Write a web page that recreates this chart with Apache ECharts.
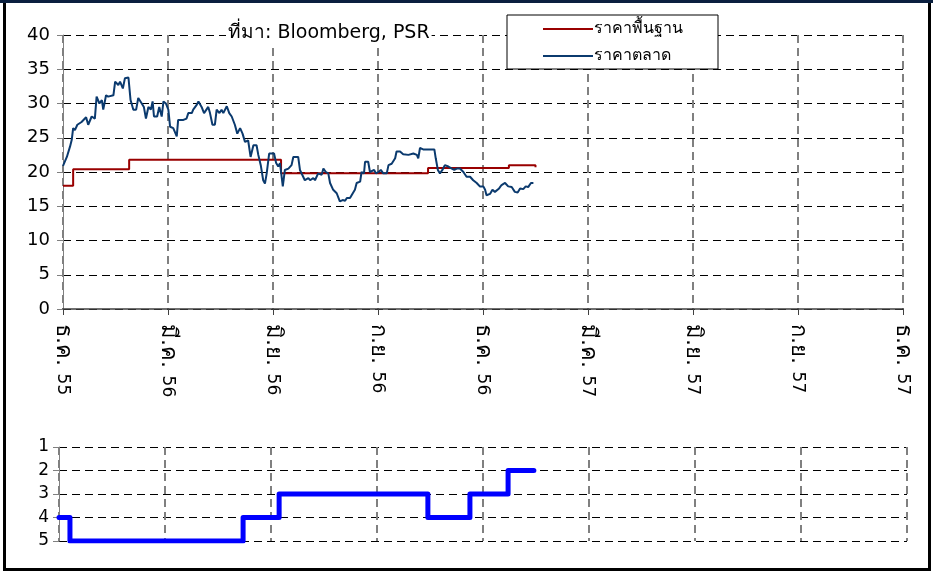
<!DOCTYPE html>
<html>
<head>
<meta charset="utf-8">
<script src="https://cdn.jsdelivr.net/npm/echarts@6/dist/echarts.min.js"></script>
<style>
    html, body { margin: 0; padding: 0; background: #fff; }
    #chart { width: 933px; height: 572px; }
</style>
</head>
<body>
<div id="chart"></div>
<script>
// x values are months counted from ธ.ค. 55
const xMonths = ['ธ.ค.', 'มี.ค.', 'มิ.ย.', 'ก.ย.', 'ธ.ค.', 'มี.ค.', 'มิ.ย.', 'ก.ย.', 'ธ.ค.']
const xYears = ['55', '56', '56', '56', '56', '57', '57', '57', '57']

// ราคาพื้นฐาน (step changes)
const basePrice = [
    [0, 18.0], [0.29, 20.4], [1.89, 21.8], [6.23, 19.8], [10.43, 20.6], [12.74, 21.0], [13.42, 21.0], [13.5, 20.7]
]

// ราคาตลาด
const marketPrice = [
    [0, 20.9], [0.11, 22.2], [0.2, 23.7], [0.25, 24.7], [0.29, 26.4], [0.34, 26.1], [0.41, 26.9], [0.53, 27.3],
    [0.66, 28.0], [0.72, 26.9], [0.82, 28.1], [0.91, 27.8], [0.96, 31.0], [1.04, 30.0], [1.11, 30.5], [1.15, 29.1],
    [1.23, 31.2], [1.29, 31.0], [1.44, 31.2], [1.49, 33.2], [1.58, 32.7], [1.63, 33.2], [1.71, 32.2], [1.77, 33.7],
    [1.87, 33.8], [1.93, 30.5], [2.01, 29.1], [2.09, 29.1], [2.15, 30.8], [2.25, 30.0], [2.31, 29.5], [2.37, 27.8],
    [2.44, 29.5], [2.51, 29.1], [2.56, 30.3], [2.6, 28.1], [2.69, 28.1], [2.75, 29.5], [2.82, 28.1], [2.87, 30.3],
    [2.94, 30.0], [3.01, 29.1], [3.06, 26.6], [3.15, 26.4], [3.25, 25.2], [3.29, 27.6], [3.44, 27.6], [3.53, 27.8],
    [3.58, 28.6], [3.68, 28.6], [3.72, 29.1], [3.82, 29.8], [3.87, 30.3], [3.96, 29.5], [4.03, 28.6], [4.15, 29.5],
    [4.2, 28.6], [4.27, 26.9], [4.34, 26.9], [4.39, 29.1], [4.47, 28.6], [4.53, 29.1], [4.58, 28.6], [4.68, 29.6],
    [4.75, 28.6], [4.82, 28.1], [4.91, 26.9], [4.98, 25.6], [5.06, 26.4], [5.13, 25.6], [5.2, 24.4], [5.29, 24.6],
    [5.36, 22.2], [5.44, 23.9], [5.53, 23.9], [5.58, 22.5], [5.65, 21.0], [5.72, 18.8], [5.77, 18.3], [5.82, 19.8],
    [5.89, 22.7], [6.03, 22.7], [6.09, 21.3], [6.15, 20.8], [6.2, 21.3], [6.28, 17.9], [6.34, 20.3], [6.44, 20.5],
    [6.53, 21.0], [6.58, 22.2], [6.72, 22.2], [6.77, 20.3], [6.91, 18.8], [7.01, 19.1], [7.06, 18.8], [7.15, 19.1],
    [7.2, 18.8], [7.29, 19.8], [7.39, 19.6], [7.44, 20.5], [7.51, 20.0], [7.58, 19.8], [7.63, 18.4], [7.72, 17.4],
    [7.82, 16.9], [7.91, 15.7], [7.99, 15.9], [8.06, 15.8], [8.11, 16.2], [8.2, 16.2], [8.28, 16.9], [8.34, 17.4],
    [8.39, 18.4], [8.49, 18.6], [8.53, 20.0], [8.6, 19.8], [8.63, 21.5], [8.72, 21.5], [8.77, 20.0], [8.82, 19.8],
    [8.89, 20.3], [8.94, 19.8], [9.01, 20.0], [9.08, 20.3], [9.15, 19.8], [9.25, 19.8], [9.3, 21.0], [9.39, 21.2],
    [9.49, 22.0], [9.53, 23.0], [9.63, 23.0], [9.72, 22.6], [9.87, 22.5], [9.91, 22.5], [10.01, 22.7], [10.11, 22.5],
    [10.15, 22.0], [10.2, 23.5], [10.29, 23.3], [10.34, 23.1], [10.44, 23.3], [10.53, 23.3], [10.61, 23.3], [10.65, 22.0],
    [10.71, 20.3], [10.77, 19.8], [10.84, 20.3], [10.91, 21.0], [11.01, 20.8], [11.11, 20.5], [11.18, 20.3], [11.25, 20.5],
    [11.34, 20.5], [11.44, 20.0], [11.53, 19.3], [11.63, 19.3], [11.72, 18.8], [11.82, 18.4], [11.91, 17.9], [12.01, 17.9],
    [12.06, 17.4], [12.1, 16.6], [12.2, 16.8], [12.27, 17.4], [12.34, 17.1], [12.46, 17.6], [12.53, 18.1], [12.63, 18.4],
    [12.72, 17.9], [12.82, 17.8], [12.91, 17.1], [12.99, 17.0], [13.06, 17.6], [13.15, 17.5], [13.22, 17.9], [13.29, 17.8],
    [13.37, 18.4], [13.44, 18.4]
]

// lower panel rating (1 = top, 5 = bottom)
const rating = [
    [0, 4], [0.31, 5], [5.21, 4], [6.23, 3], [10.44, 4], [11.63, 3], [12.71, 2], [13.44, 2]
]

const FONT = 'DejaVu Sans, Liberation Sans, sans-serif'
const chart = echarts.init(document.getElementById('chart'), null, { renderer: 'canvas' })

const dashed = [8, 5]

chart.setOption({
    animation: false,
    backgroundColor: '#fff',
    textStyle: { fontFamily: FONT, color: '#000' },
    title: {
        text: 'ที่มา: Bloomberg, PSR',
        left: 226,
        top: 24,
        padding: [0, 2, 0, 2],
        backgroundColor: '#fff',
        textStyle: { fontFamily: FONT, fontSize: 19, fontWeight: 'normal', color: '#000' }
    },
    legend: {
        data: ['ราคาพื้นฐาน', 'ราคาตลาด'],
        orient: 'vertical',
        left: 507,
        top: 15,
        padding: [6, 35, 5, 36],
        icon: 'rect',
        itemWidth: 50,
        itemHeight: 2,
        itemGap: 11,
        backgroundColor: '#fff',
        borderColor: '#000',
        borderWidth: 1,
        borderRadius: 0,
        textStyle: { fontFamily: 'Liberation Sans, sans-serif', fontSize: 16, color: '#000', padding: [0, 0, 0, -4], lineHeight: 16 }
    },
    grid: [
        { left: 63, right: 30, top: 35, bottom: 263 },
        { left: 59, right: 26, top: 447, bottom: 31 }
    ],
    xAxis: [
        {
            type: 'value', gridIndex: 0, min: 0, max: 24, interval: 3,
            axisLine: { show: true, onZero: false, lineStyle: { color: '#404040', width: 1.5 } },
            axisTick: { show: true, length: 6, lineStyle: { color: '#404040' } },
            axisLabel: {
                rotate: -90, margin: 15, fontFamily: FONT, color: '#000',
                formatter: v => {
                    const i = Math.round(v / 3)
                    return '{th|' + xMonths[i] + '}{sp|  }{num|' + xYears[i] + '}'
                },
                rich: {
                    th: { fontSize: 22, lineHeight: 22, verticalAlign: 'bottom', fontFamily: FONT, color: '#000' },
                    sp: { fontSize: 12, lineHeight: 22, verticalAlign: 'bottom', fontFamily: FONT },
                    num: { fontSize: 17, lineHeight: 22, verticalAlign: 'bottom', padding: [0, 0, 2, 0], fontFamily: FONT, color: '#000' }
                }
            },
            splitLine: { show: true, lineStyle: { color: '#808080', width: 2, type: dashed } }
        },
        {
            type: 'value', gridIndex: 1, min: 0, max: 24, interval: 3,
            axisLine: { show: false },
            axisTick: { show: false },
            axisLabel: { show: false },
            splitLine: { show: true, lineStyle: { color: '#808080', width: 2, type: dashed } }
        }
    ],
    yAxis: [
        {
            type: 'value', gridIndex: 0, min: 0, max: 40, interval: 5,
            axisLine: { show: true, lineStyle: { color: '#808080' } },
            axisTick: { show: true, length: 6, lineStyle: { color: '#808080' } },
            axisLabel: { margin: 13, fontSize: 18, fontFamily: FONT, color: '#000' },
            splitLine: { show: true, lineStyle: { color: '#000', width: 1, type: dashed } }
        },
        {
            type: 'value', gridIndex: 1, min: 1, max: 5, interval: 1, inverse: true,
            axisLine: { show: true, lineStyle: { color: '#808080' } },
            axisTick: { show: true, length: 6, lineStyle: { color: '#808080' } },
            axisLabel: { margin: 10, fontSize: 17, fontFamily: FONT, color: '#000' },
            splitLine: { show: true, lineStyle: { color: '#000', width: 1, type: dashed } }
        }
    ],
    series: [
        {
            name: 'ราคาพื้นฐาน', type: 'line', xAxisIndex: 0, yAxisIndex: 0,
            step: 'end', symbol: 'none', data: basePrice,
            itemStyle: { color: '#990000' },
            lineStyle: { color: '#990000', width: 2 }
        },
        {
            name: 'ราคาตลาด', type: 'line', xAxisIndex: 0, yAxisIndex: 0,
            symbol: 'none', data: marketPrice,
            itemStyle: { color: '#0b3a6e' },
            lineStyle: { color: '#0b3a6e', width: 2 }
        },
        {
            name: 'rating', type: 'line', xAxisIndex: 1, yAxisIndex: 1,
            step: 'end', symbol: 'none', data: rating,
            lineStyle: { color: '#0000ff', width: 5, cap: 'round', join: 'round' }
        }
    ],
    graphic: [
        {
            type: 'rect', silent: true, z: 100,
            shape: { x: 4.5, y: 1.5, width: 925, height: 568 },
            style: { fill: 'none', stroke: '#000', lineWidth: 3 }
        },
        {
            type: 'rect', silent: true, z: 101,
            shape: { x: 0, y: 0, width: 933, height: 3 },
            style: { fill: '#0a1f3f' }
        }
    ]
})
</script>
</body>
</html>
